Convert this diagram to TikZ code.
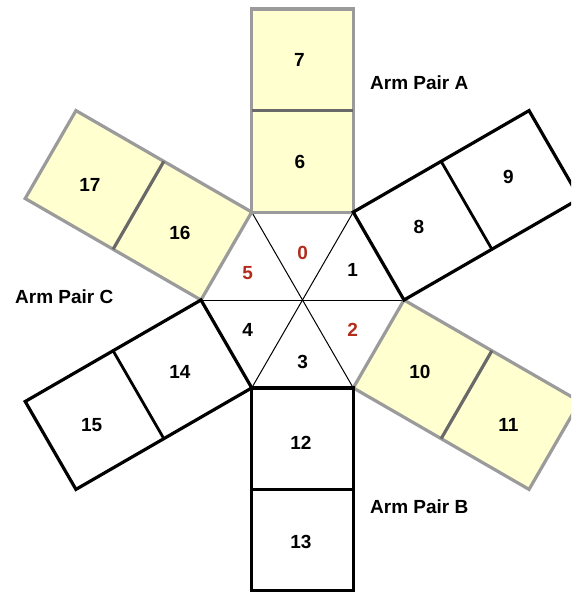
\documentclass[tikz,border=0pt]{standalone}
\usepackage{fontspec}
\setmainfont{Liberation Sans}
\definecolor{armyellow}{RGB}{255,255,208}
\definecolor{armgrey}{RGB}{155,155,155}
\definecolor{armdiv}{RGB}{105,105,105}
\definecolor{hexred}{RGB}{178,45,30}
\begin{document}
\begin{tikzpicture}[x=1pt,y=1pt,
  lbl/.style={font=\fontsize{19}{21}\selectfont\bfseries, inner sep=0pt},
  redlbl/.style={lbl, text=hexred},
  hexline/.style={line width=1pt, black},
  yborder/.style={armgrey, line width=3.2pt},
  ydiv/.style={armdiv, line width=3.2pt},
  bborder/.style={black, line width=3.2pt},
  bdiv/.style={black, line width=2.8pt}]
\def\s{101.5}
\def\h{87.9}
\useasboundingbox (-302.5,-292) rectangle (268.5,300);
\clip (-302.5,-292) rectangle (268.5,300);
\fill[white] (-302.5,-292) rectangle (268.5,300);
% hexagon vertices
\coordinate (V0) at (0:\s);
\coordinate (V60) at (60:\s);
\coordinate (V120) at (120:\s);
\coordinate (V180) at (180:\s);
\coordinate (V240) at (240:\s);
\coordinate (V300) at (300:\s);
% internal lines
\draw[hexline] (V0) -- (V180);
\draw[hexline] (V60) -- (V240);
\draw[hexline] (V120) -- (V300);
% yellow arms
\foreach \a in {90,-30,150}{
  \begin{scope}[rotate={\a-90}]
    \fill[armyellow] ({-\s/2},\h) rectangle ({\s/2},{\h+2*\s});
    \draw[yborder] ({-\s/2},\h) rectangle ({\s/2},{\h+2*\s});
    \draw[ydiv] ({-\s/2},{\h+\s}) -- ({\s/2},{\h+\s});
  \end{scope}
}
% black arms
\foreach \a in {30,-90,-150}{
  \begin{scope}[rotate={\a-90}]
    \draw[bborder] ({-\s/2},\h) rectangle ({\s/2},{\h+2*\s});
    \draw[bdiv] ({-\s/2},{\h+\s}) -- ({\s/2},{\h+\s});
  \end{scope}
}
% hexagon labels
\node[redlbl] (t0) at (0.2,47.3) {0};
\node[lbl] (t1) at (50.2,30) {1};
\node[redlbl] (t2) at (50.2,-30) {2};
\node[lbl] (t3) at (0.2,-61.7) {3};
\node[lbl] (t4) at (-54.8,-30) {4};
\node[redlbl] (t5) at (-54.8,26.7) {5};
% square labels
\node[lbl] (t6) at (-2.5,138.3) {6};
\node[lbl] (t7) at (-3.2,240) {7};
\node[lbl] (t8) at (116.5,73.3) {8};
\node[lbl] (t9) at (205.8,123.3) {9};
\node[lbl] (t10) at (117.5,-71.7) {10};
\node[lbl] (t11) at (205.8,-125) {11};
\node[lbl] (t12) at (-1.5,-143.3) {12};
\node[lbl] (t13) at (-1.5,-241.7) {13};
\node[lbl] (t14) at (-122.5,-71.7) {14};
\node[lbl] (t15) at (-210.8,-125) {15};
\node[lbl] (t16) at (-122.5,66.7) {16};
\node[lbl] (t17) at (-212.5,115) {17};
% arm pair labels
\node[lbl, anchor=base west] (pa) at (67.5,210) {Arm Pair A};
\node[lbl, anchor=base west] (pb) at (67.5,-213) {Arm Pair B};
\node[lbl, anchor=base west] (pc) at (-287.5,-3) {Arm Pair C};
\end{tikzpicture}
\end{document}
